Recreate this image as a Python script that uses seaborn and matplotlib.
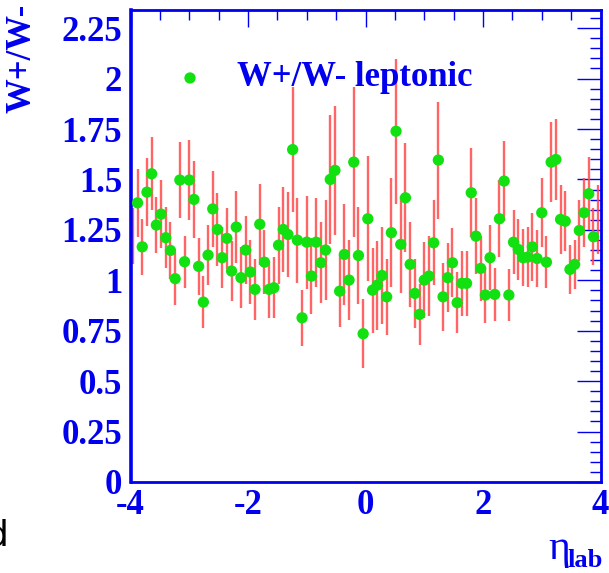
import numpy as np
import pandas as pd
import matplotlib
matplotlib.use("Agg")
import matplotlib.pyplot as plt
import seaborn as sns
from matplotlib.ticker import MultipleLocator, FixedLocator

# ---- data ----
bin_edges = np.linspace(-4.0, 4.0, 101)
ratio = [1.22, 1.384, 1.166, 1.437, 1.528, 1.274, 1.328, 1.211, 1.148, 1.008,
         1.497, 1.092, 1.497, 1.401, 1.069, 0.892, 1.125, 1.354, 1.252, 1.112,
         1.208, 1.046, 1.264, 1.013, 1.150, 1.041, 0.955, 1.278, 1.090, 0.955,
         0.963, 1.174, 1.252, 1.227, 1.648, 1.199, 0.814, 1.189, 1.021, 1.189,
         1.087, 1.150, 1.500, 1.545, 0.946, 1.128, 1.001, 1.586, 1.123, 0.735,
         1.305, 0.951, 0.976, 1.024, 0.918, 1.236, 1.739, 1.178, 1.409, 1.079,
         0.935, 0.831, 1.001, 1.021, 1.186, 1.596, 0.918, 1.013, 1.087, 0.889,
         0.985, 0.985, 1.434, 1.219, 1.059, 0.927, 1.112, 0.930, 1.305, 1.492,
         0.927, 1.189, 1.153, 1.112, 1.115, 1.166, 1.108, 1.335, 1.090, 1.586,
         1.599, 1.302, 1.293, 1.054, 1.079, 1.247, 1.335, 1.429, 1.216, 1.30]
err = [0.14, 0.17, 0.14, 0.17, 0.18, 0.14, 0.17, 0.15, 0.14, 0.13,
       0.19, 0.13, 0.20, 0.19, 0.14, 0.13, 0.15, 0.19, 0.18, 0.15,
       0.15, 0.15, 0.18, 0.15, 0.17, 0.16, 0.15, 0.20, 0.16, 0.14,
       0.15, 0.19, 0.21, 0.21, 0.31, 0.21, 0.14, 0.23, 0.19, 0.22,
       0.20, 0.25, 0.32, 0.32, 0.18, 0.25, 0.20, 0.37, 0.24, 0.17,
       0.31, 0.21, 0.22, 0.24, 0.19, 0.27, 0.36, 0.24, 0.27, 0.21,
       0.17, 0.15, 0.19, 0.20, 0.21, 0.29, 0.17, 0.17, 0.17, 0.15,
       0.16, 0.16, 0.22, 0.19, 0.16, 0.14, 0.16, 0.13, 0.19, 0.20,
       0.13, 0.16, 0.15, 0.14, 0.15, 0.17, 0.14, 0.17, 0.13, 0.20,
       0.20, 0.17, 0.15, 0.12, 0.12, 0.15, 0.17, 0.18, 0.14, 0.17]
y_ticks = [0, 0.25, 0.5, 0.75, 1, 1.25, 1.5, 1.75, 2, 2.25]
y_ticklabels = ["0", "0.25", "0.5", "0.75", "1", "1.25", "1.5", "1.75", "2", "2.25"]
x_ticks = [-4, -2, 0, 2, 4]
x_ticklabels = ["-4", "-2", "0", "2", "4"]
legend_label = "W+/W- leptonic"
y_label = "W+/W-"
x_label_main = "η"
x_label_sub = "lab"

eta = 0.5 * (bin_edges[:-1] + bin_edges[1:])
df = pd.DataFrame({"eta": eta, "ratio": ratio, "err": err})

BLUE = "#0000ee"
GREEN = "#11e011"
RED = "#ff4a4a"
FONT = ["Liberation Serif", "DejaVu Serif"]
FS = 25

sns.set_theme(style="white")
plt.rcParams["font.family"] = FONT

fig = plt.figure(figsize=(6.09, 5.73), dpi=100)
ax = fig.add_axes([130.5 / 609, 1 - 482 / 573, 470 / 609, 472 / 573])

# error bars
ax.vlines(df["eta"], df["ratio"] - df["err"], df["ratio"] + df["err"],
          color=RED, lw=1.7, alpha=0.85, zorder=2)
# markers (edge bins have no visible marker in the reference)
inner = df.iloc[1:-1]
sns.scatterplot(data=inner, x="eta", y="ratio", ax=ax, color=GREEN, s=66,
                edgecolor="none", zorder=3, legend=False)

ax.set_xlim(-4, 4)
ax.set_ylim(0, 2.34)

ax.xaxis.set_major_locator(FixedLocator(x_ticks))
ax.set_xticklabels(x_ticklabels)
ax.xaxis.set_minor_locator(MultipleLocator(0.5))
ax.yaxis.set_major_locator(FixedLocator(y_ticks))
ax.set_yticklabels(y_ticklabels)
ax.yaxis.set_minor_locator(MultipleLocator(0.05))

ax.tick_params(axis="both", which="both", direction="in", top=True, right=True,
               color=BLUE, labelcolor=BLUE)
ax.tick_params(axis="y", which="major", length=17, width=1, pad=6, labelsize=FS)
ax.tick_params(axis="y", which="minor", length=8, width=1)
ax.tick_params(axis="x", which="major", length=12, width=1, pad=5, labelsize=FS)
ax.tick_params(axis="x", which="minor", length=7, width=1)
for lab in ax.get_xticklabels() + ax.get_yticklabels():
    lab.set_fontweight("bold")
for sp in ax.spines.values():
    sp.set_color(BLUE)
    sp.set_linewidth(2)
ax.spines["left"].set_linewidth(2.6)

ax.set_xlabel("")
ax.set_ylabel("")

# legend
ax.scatter([0.1266], [0.856], transform=ax.transAxes, s=66, color=GREEN,
           edgecolor="none", clip_on=False, zorder=4)
ax.text(0.2266, 0.856, legend_label, transform=ax.transAxes, ha="left",
        va="center", color=BLUE, fontsize=FS, fontweight="bold")

# axis titles
fig.text(22 / 609, 1 - 4 / 573, y_label, rotation=90, ha="center", va="top",
         color=BLUE, fontsize=FS, fontweight="bold")
fig.text(570 / 609, 1 - 559 / 573, x_label_main, ha="right", va="baseline",
         color=BLUE, fontsize=30)
fig.text(603 / 609, 1 - 567 / 573, x_label_sub, ha="right", va="baseline",
         color=BLUE, fontsize=19, fontweight="bold")

# stray character at left edge of the reference
fig.text(9 / 609, 1 - 545 / 573, "d", ha="right", va="baseline",
         color="black", fontsize=26, family=["DejaVu Sans"])

fig.savefig("out.png", dpi=100)
